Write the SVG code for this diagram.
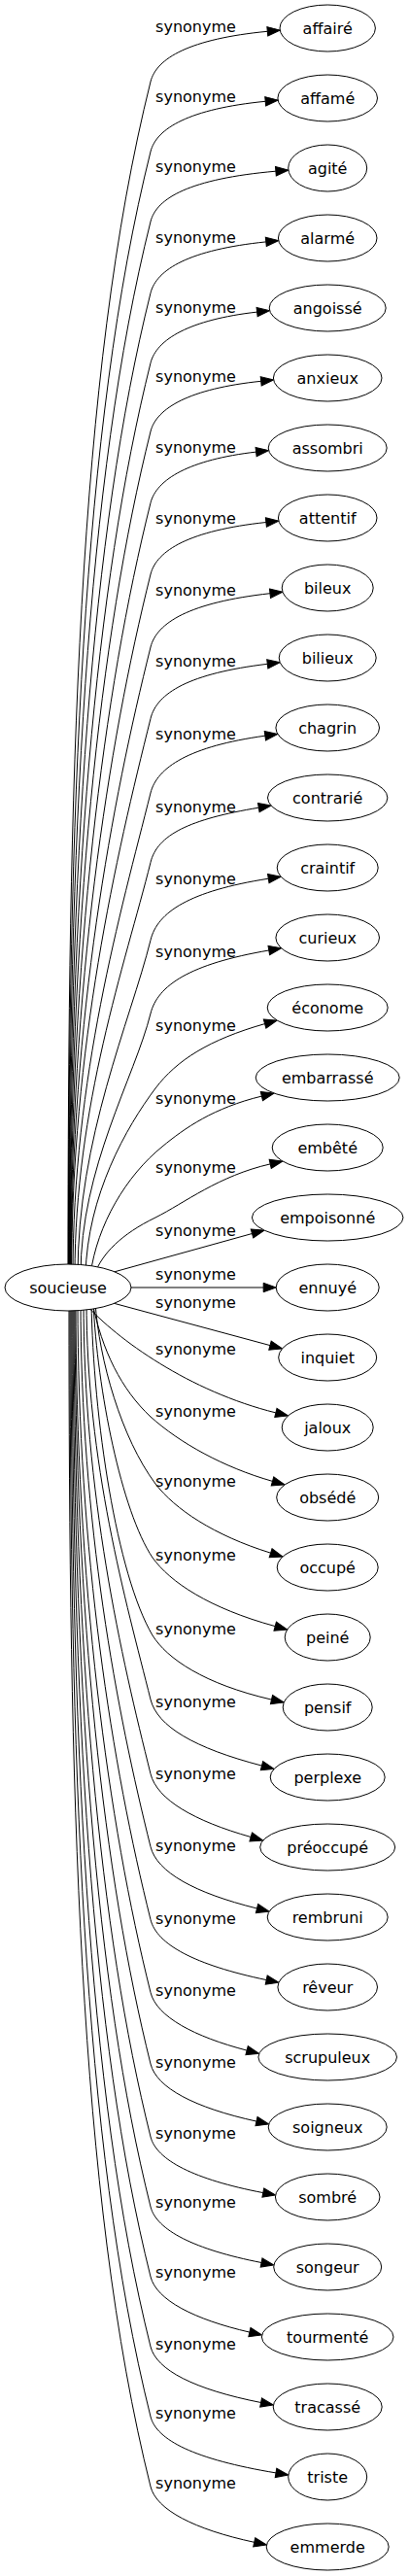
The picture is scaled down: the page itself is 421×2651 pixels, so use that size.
<svg xmlns="http://www.w3.org/2000/svg" width="421" height="2651" viewBox="0 0 421 2651">
<style>
.e{fill:none;stroke:#000;stroke-width:1;marker-end:url(#arr)}
.l{font-family:"DejaVu Sans",sans-serif;font-size:16px;fill:#000;text-anchor:middle}
.n ellipse{fill:#fff;stroke:#000;stroke-width:1}
.n text{font-family:"DejaVu Sans",sans-serif;font-size:16px;fill:#000;text-anchor:middle}
</style>
<defs>
<marker id="arr" markerUnits="userSpaceOnUse" markerWidth="13" markerHeight="9.4" refX="0" refY="4.7" orient="auto" viewBox="0 0 13 9.4" overflow="visible">
<path d="M0,0 L13,4.7 L0,9.4 Z" fill="#000" stroke="#000" stroke-width="1"/>
</marker>
</defs>
<rect width="421" height="2651" fill="#fff"/>
<g id="connectors">
<path class="e" d="M70,1312 C70,808.5 79.5,386.1 155,84 C161,60 195,40 275.3,32.3"/>
<path class="e" d="M70.4,1312 C70.4,838 83.9,440.4 155,156 C161,132 195,112 273.2,104.3"/>
<path class="e" d="M70.8,1312 C70.8,867.6 88.3,494.7 155,228 C161,204 195,184 283.9,176.2"/>
<path class="e" d="M71.2,1312 C71.2,897.7 92.9,550.1 155,301.5 C161.1,277.2 195,257 273.8,248.9"/>
<path class="e" d="M71.6,1312 C71.6,927.2 97.3,604.4 155,373.5 C161.1,349.2 195,329 264.6,321.1"/>
<path class="e" d="M72,1312 C72,956.1 101.6,657.5 155,444 C161,420 195,400 268.7,392.3"/>
<path class="e" d="M72.4,1312 C72.4,986.3 106.1,712.9 155,517.5 C161.1,493.2 195,473 263.6,465.1"/>
<path class="e" d="M72.8,1312 C72.8,1016.4 110.7,768.4 155,591 C161.2,566.4 195,546 273.9,537.5"/>
<path class="e" d="M73.2,1312 C73.2,1047.1 115.3,824.9 155,666 C161.3,640.8 195,620 278,610.7"/>
<path class="e" d="M73.6,1312 C73.6,1077.3 119.8,880.3 155,739.5 C161.4,713 195,693 275.3,683.3"/>
<path class="e" d="M75,1312 C75,1108.6 124.5,938 155,816 C161.6,789.6 195,768 272.9,757.2"/>
<path class="e" d="M77,1312 C77,1138 128.9,991.9 155,887.5 C161.8,859.2 195,843 266.3,831.2"/>
<path class="e" d="M80,1312 C80,1170.8 133.8,1052.2 155,967.5 C162,938.6 195,917 276.3,904.2"/>
<path class="e" d="M83,1312 C83,1201.7 138.5,1109.2 155,1043 C162.2,1014.2 195,992 276.8,978"/>
<path class="e" d="M88,1312 C90,1230 130,1160 160,1120 C182,1091 215,1070 272.6,1053.6"/>
<path class="e" d="M93,1312 C100,1260 130,1210 167,1180 C190,1161 220,1140 269.4,1128.1"/>
<path class="e" d="M97,1312 C105,1290 125,1270 160,1253 C190,1238 225,1210 278.2,1197.9"/>
<path class="e" d="M110,1311 L259.5,1269.5"/>
<path class="e" d="M130,1325 L271.2,1325"/>
<path class="e" d="M110,1339.3 L278,1384.6"/>
<path class="e" d="M88,1342 C120,1378 195,1432 283.9,1453.9"/>
<path class="e" d="M95,1340 C105,1390 125,1430 155,1458 C185,1485 230,1510 280.5,1524.4"/>
<path class="e" d="M98,1340 C102,1400 125,1480 160,1527 C180,1553 220,1580 278.6,1598.2"/>
<path class="e" d="M96,1340 C100,1430 125,1555 157,1603 C175,1628 215,1655 283.2,1673.6"/>
<path class="e" d="M94,1340 C96,1460 120,1620 157,1683 C172,1707 210,1733 279.5,1749.1"/>
<path class="e" d="M89,1338 C89,1506.5 129.7,1647.9 155,1749 C161.9,1776.6 200,1799 269.5,1817.1"/>
<path class="e" d="M86,1338 C86,1538 125,1705.6 155,1825.5 C161.7,1852.2 200,1874 258.2,1890.5"/>
<path class="e" d="M83,1338 C83,1568.6 120.4,1762.1 155,1900.5 C161.5,1926.6 200,1948 264.5,1964"/>
<path class="e" d="M80,1338 C80,1599.4 115.8,1818.7 155,1975.5 C161.4,2001 200,2022 274.2,2037.6"/>
<path class="e" d="M78,1338 C78,1630.1 111.2,1875.2 155,2050.5 C161.2,2075.4 200,2096 254.1,2110.1"/>
<path class="e" d="M77,1338 C77,1660.3 106.7,1930.6 155,2124 C161.2,2148.6 200,2169 264,2183.1"/>
<path class="e" d="M76,1338 C76,1691 102,1987.2 155,2199 C161,2223 200,2243 270.8,2256.6"/>
<path class="e" d="M75,1338 C75,1720.5 97.6,2041.5 155,2271 C161,2295 200,2315 269.1,2328.5"/>
<path class="e" d="M74,1338 C74,1750 93.2,2095.8 155,2343 C161,2367 200,2387 256.9,2400.1"/>
<path class="e" d="M73,1338 C73,1779.6 88.8,2150.1 155,2415 C161,2439 200,2459 268.6,2472.5"/>
<path class="e" d="M72,1338 C72,1809.1 84.3,2204.3 155,2487 C161,2511 200,2531 284,2544.9"/>
<path class="e" d="M71,1338 C71,1838.6 79.9,2258.6 155,2559 C161,2583 200,2603 261.7,2616.3"/>
<text class="l" x="201.5" y="33.3">synonyme</text>
<text class="l" x="201.5" y="105.3">synonyme</text>
<text class="l" x="201.5" y="177.3">synonyme</text>
<text class="l" x="201.5" y="250.3">synonyme</text>
<text class="l" x="201.5" y="322.3">synonyme</text>
<text class="l" x="201.5" y="393.3">synonyme</text>
<text class="l" x="201.5" y="466.3">synonyme</text>
<text class="l" x="201.5" y="539.3">synonyme</text>
<text class="l" x="201.5" y="613.3">synonyme</text>
<text class="l" x="201.5" y="686.3">synonyme</text>
<text class="l" x="201.5" y="761.3">synonyme</text>
<text class="l" x="201.5" y="836.3">synonyme</text>
<text class="l" x="201.5" y="910.3">synonyme</text>
<text class="l" x="201.5" y="985.3">synonyme</text>
<text class="l" x="201.5" y="1061.3">synonyme</text>
<text class="l" x="201.5" y="1136.3">synonyme</text>
<text class="l" x="201.5" y="1207.3">synonyme</text>
<text class="l" x="201.5" y="1272.3">synonyme</text>
<text class="l" x="201.5" y="1317.3">synonyme</text>
<text class="l" x="201.5" y="1346.3">synonyme</text>
<text class="l" x="201.5" y="1394.3">synonyme</text>
<text class="l" x="201.5" y="1458.3">synonyme</text>
<text class="l" x="201.5" y="1530.3">synonyme</text>
<text class="l" x="201.5" y="1606.3">synonyme</text>
<text class="l" x="201.5" y="1682.3">synonyme</text>
<text class="l" x="201.5" y="1757.3">synonyme</text>
<text class="l" x="201.5" y="1831.3">synonyme</text>
<text class="l" x="201.5" y="1905.3">synonyme</text>
<text class="l" x="201.5" y="1980.3">synonyme</text>
<text class="l" x="201.5" y="2054.3">synonyme</text>
<text class="l" x="201.5" y="2128.3">synonyme</text>
<text class="l" x="201.5" y="2201.3">synonyme</text>
<text class="l" x="201.5" y="2272.3">synonyme</text>
<text class="l" x="201.5" y="2344.3">synonyme</text>
<text class="l" x="201.5" y="2418.3">synonyme</text>
<text class="l" x="201.5" y="2489.3">synonyme</text>
<text class="l" x="201.5" y="2561.3">synonyme</text>
</g>
<g id="node-soucieuse" class="n"><ellipse cx="70" cy="1325" rx="65" ry="24"/><text x="70" y="1330.5">soucieuse</text></g>
<g id="node-affaire" class="n"><ellipse cx="337.2" cy="29" rx="49.2" ry="24"/><text x="337.2" y="34.5">affairé</text></g>
<g id="node-affame" class="n"><ellipse cx="337.2" cy="101" rx="51.3" ry="24"/><text x="337.2" y="106.5">affamé</text></g>
<g id="node-agite" class="n"><ellipse cx="337.2" cy="173" rx="40.5" ry="24"/><text x="337.2" y="178.5">agité</text></g>
<g id="node-alarme" class="n"><ellipse cx="337.2" cy="245" rx="50.8" ry="24"/><text x="337.2" y="250.5">alarmé</text></g>
<g id="node-angoisse" class="n"><ellipse cx="337.2" cy="317" rx="60" ry="24"/><text x="337.2" y="322.5">angoissé</text></g>
<g id="node-anxieux" class="n"><ellipse cx="337.2" cy="389" rx="55.8" ry="24"/><text x="337.2" y="394.5">anxieux</text></g>
<g id="node-assombri" class="n"><ellipse cx="337.2" cy="461" rx="61" ry="24"/><text x="337.2" y="466.5">assombri</text></g>
<g id="node-attentif" class="n"><ellipse cx="337.2" cy="533" rx="50.8" ry="24"/><text x="337.2" y="538.5">attentif</text></g>
<g id="node-bileux" class="n"><ellipse cx="337.2" cy="605" rx="47" ry="24"/><text x="337.2" y="610.5">bileux</text></g>
<g id="node-bilieux" class="n"><ellipse cx="337.2" cy="677" rx="50" ry="24"/><text x="337.2" y="682.5">bilieux</text></g>
<g id="node-chagrin" class="n"><ellipse cx="337.2" cy="749" rx="53.3" ry="24"/><text x="337.2" y="754.5">chagrin</text></g>
<g id="node-contrarie" class="n"><ellipse cx="337.2" cy="821" rx="61.7" ry="24"/><text x="337.2" y="826.5">contrarié</text></g>
<g id="node-craintif" class="n"><ellipse cx="337.2" cy="893" rx="52" ry="24"/><text x="337.2" y="898.5">craintif</text></g>
<g id="node-curieux" class="n"><ellipse cx="337.2" cy="965" rx="53.3" ry="24"/><text x="337.2" y="970.5">curieux</text></g>
<g id="node-econome" class="n"><ellipse cx="337.2" cy="1037" rx="62" ry="24"/><text x="337.2" y="1042.5">économe</text></g>
<g id="node-embarrasse" class="n"><ellipse cx="337.2" cy="1109" rx="74" ry="24"/><text x="337.2" y="1114.5">embarrassé</text></g>
<g id="node-embete" class="n"><ellipse cx="337.2" cy="1181" rx="57" ry="24"/><text x="337.2" y="1186.5">embêté</text></g>
<g id="node-empoisonne" class="n"><ellipse cx="337.2" cy="1253" rx="77.8" ry="24"/><text x="337.2" y="1258.5">empoisonné</text></g>
<g id="node-ennuye" class="n"><ellipse cx="337.2" cy="1325" rx="53" ry="24"/><text x="337.2" y="1330.5">ennuyé</text></g>
<g id="node-inquiet" class="n"><ellipse cx="337.2" cy="1397" rx="50.5" ry="24"/><text x="337.2" y="1402.5">inquiet</text></g>
<g id="node-jaloux" class="n"><ellipse cx="337.2" cy="1469" rx="47" ry="24"/><text x="337.2" y="1474.5">jaloux</text></g>
<g id="node-obsede" class="n"><ellipse cx="337.2" cy="1541" rx="52.5" ry="24"/><text x="337.2" y="1546.5">obsédé</text></g>
<g id="node-occupe" class="n"><ellipse cx="337.2" cy="1613" rx="52" ry="24"/><text x="337.2" y="1618.5">occupé</text></g>
<g id="node-peine" class="n"><ellipse cx="337.2" cy="1685" rx="44" ry="24"/><text x="337.2" y="1690.5">peiné</text></g>
<g id="node-pensif" class="n"><ellipse cx="337.2" cy="1757" rx="46" ry="24"/><text x="337.2" y="1762.5">pensif</text></g>
<g id="node-perplexe" class="n"><ellipse cx="337.2" cy="1829" rx="59" ry="24"/><text x="337.2" y="1834.5">perplexe</text></g>
<g id="node-preoccupe" class="n"><ellipse cx="337.2" cy="1901" rx="69.5" ry="24"/><text x="337.2" y="1906.5">préoccupé</text></g>
<g id="node-rembruni" class="n"><ellipse cx="337.2" cy="1973" rx="62" ry="24"/><text x="337.2" y="1978.5">rembruni</text></g>
<g id="node-reveur" class="n"><ellipse cx="337.2" cy="2045" rx="51.3" ry="24"/><text x="337.2" y="2050.5">rêveur</text></g>
<g id="node-scrupuleux" class="n"><ellipse cx="337.2" cy="2117" rx="71.3" ry="24"/><text x="337.2" y="2122.5">scrupuleux</text></g>
<g id="node-soigneux" class="n"><ellipse cx="337.2" cy="2189" rx="61" ry="24"/><text x="337.2" y="2194.5">soigneux</text></g>
<g id="node-sombre" class="n"><ellipse cx="337.2" cy="2261" rx="53.8" ry="24"/><text x="337.2" y="2266.5">sombré</text></g>
<g id="node-songeur" class="n"><ellipse cx="337.2" cy="2333" rx="55.5" ry="24"/><text x="337.2" y="2338.5">songeur</text></g>
<g id="node-tourmente" class="n"><ellipse cx="337.2" cy="2405" rx="67.8" ry="24"/><text x="337.2" y="2410.5">tourmenté</text></g>
<g id="node-tracasse" class="n"><ellipse cx="337.2" cy="2477" rx="56" ry="24"/><text x="337.2" y="2482.5">tracassé</text></g>
<g id="node-triste" class="n"><ellipse cx="337.2" cy="2549" rx="40.5" ry="24"/><text x="337.2" y="2554.5">triste</text></g>
<g id="node-emmerde" class="n"><ellipse cx="337.2" cy="2621" rx="63" ry="24"/><text x="337.2" y="2626.5">emmerde</text></g>
</svg>
